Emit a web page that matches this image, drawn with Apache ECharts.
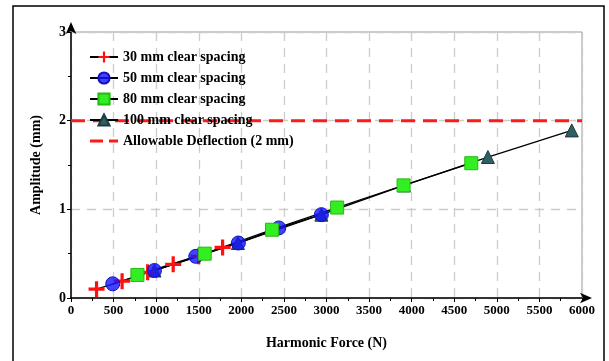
<!DOCTYPE html>
<html>
<head>
<meta charset="utf-8">
<script src="https://cdn.jsdelivr.net/npm/echarts@6/dist/echarts.min.js"></script>
<style>
html, body { margin: 0; padding: 0; background: #fff; }
#main { width: 609px; height: 361px; }
</style>
</head>
<body>
<div id="main"></div>
<script>
/* data: [force N, amplitude mm] */
var force30 = [300, 600, 900, 1200, 1500, 1780];
var amp30 = [0.10, 0.19, 0.29, 0.38, 0.47, 0.57];
var force50 = [490, 980, 1465, 1965, 2440, 2940];
var amp50 = [0.16, 0.31, 0.47, 0.62, 0.79, 0.94];
var force80 = [780, 1570, 2360, 3125, 3905, 4700];
var amp80 = [0.26, 0.50, 0.77, 1.02, 1.27, 1.52];
var force100 = [980, 1960, 2940, 3910, 4895, 5880];
var amp100 = [0.31, 0.62, 0.94, 1.27, 1.59, 1.89];
var limitX = [0, 6000];
var limitY = [2, 2];
var names = ['30 mm clear spacing', '50 mm clear spacing', '80 mm clear spacing', '100 mm clear spacing', 'Allowable Deflection (2 mm)'];

function pairs(xs, ys) {
	var out = [];
	for (var i = 0; i < xs.length; i++) {
		out.push([xs[i], ys[i]]);
	}
	return out;
}

var serif = '"Liberation Serif", "Times New Roman", serif';
var plus = 'path://M4,0h2v4h4v2h-4v4h-2v-4h-4v-2h4z';
// dashed legend icon, padded to the 28x14 icon box
var dashIcon = 'path://M0,0h0.01v0.01h-0.01z M0,5.5h13v3h-13z M19,5.5h9v3h-9z M0,14h0.01v-0.01h-0.01z';

var myChart = echarts.init(document.getElementById('main'));

function pointSeries(name, data, symbol, size, color, border) {
	return {
		name: name,
		type: 'line',
		data: data,
		symbol: symbol,
		symbolSize: size,
		showSymbol: true,
		lineStyle: { color: '#000', width: 1.3 },
		itemStyle: { color: color, borderColor: border, borderWidth: border ? 1 : 0, opacity: 1 },
		emphasis: { disabled: true },
		z: 3
	};
}

var option = {
	animation: false,
	graphic: [{
		type: 'rect',
		shape: { x: 13, y: 6, width: 591, height: 360 },
		style: { fill: 'none', stroke: '#000', lineWidth: 1.5 },
		z: 0
	}],
	grid: {
		left: 71, right: 27, top: 32, bottom: 63,
		show: true, borderColor: '#999', borderWidth: 1
	},
	legend: {
		data: [names[0], names[1], names[2], names[3], { name: names[4], icon: dashIcon }],
		orient: 'vertical',
		left: 84, top: 45,
		itemWidth: 28, itemHeight: 14, itemGap: 7,
		textStyle: { fontFamily: serif, fontWeight: 'bold', fontSize: 14, color: '#000' }
	},
	xAxis: {
		type: 'value',
		min: 0, max: 6000, interval: 500,
		name: 'Harmonic Force (N)',
		nameLocation: 'middle', nameGap: 38,
		nameTextStyle: { fontFamily: serif, fontWeight: 'bold', fontSize: 14, color: '#000' },
		axisLine: { show: true, lineStyle: { color: '#000', width: 1.5 }, symbol: ['none', 'arrow'], symbolSize: [8, 12], symbolOffset: [0, 10] },
		axisTick: { show: true, length: 4, lineStyle: { color: '#000' } },
		minorTick: { show: true, splitNumber: 2, length: 3, lineStyle: { color: '#000' } },
		axisLabel: { fontFamily: serif, fontWeight: 'bold', fontSize: 13, color: '#000', margin: 6,
			formatter: function (v) { return String(v); } },
		splitLine: { show: true, lineStyle: { color: '#ccc', type: [9, 7], width: 1.3 } }
	},
	yAxis: {
		type: 'value',
		min: 0, max: 3, interval: 1,
		name: 'Amplitude (mm)',
		nameLocation: 'middle', nameGap: 28,
		nameTextStyle: { fontFamily: serif, fontWeight: 'bold', fontSize: 14, color: '#000' },
		axisLine: { show: true, lineStyle: { color: '#000', width: 1.5 }, symbol: ['none', 'arrow'], symbolSize: [8, 12], symbolOffset: [0, 10] },
		axisTick: { show: true, length: 4, lineStyle: { color: '#000' } },
		minorTick: { show: true, splitNumber: 2, length: 3, lineStyle: { color: '#000' } },
		axisLabel: { fontFamily: serif, fontWeight: 'bold', fontSize: 14, color: '#000', margin: 5 },
		splitLine: { show: true, lineStyle: { color: '#ccc', type: [9, 7], width: 1.3 } }
	},
	series: [
		pointSeries(names[3], pairs(force100, amp100), 'triangle', 13, '#2e5f62', '#1d3b3d'),
		pointSeries(names[0], pairs(force30, amp30), plus, 16, '#ff1010', null),
		pointSeries(names[1], pairs(force50, amp50), 'circle', 14, 'rgba(20,20,255,0.8)', '#1010c0'),
		pointSeries(names[2], pairs(force80, amp80), 'rect', 13, '#33ee22', '#22bb11'),
		{
			name: names[4],
			type: 'line',
			data: pairs(limitX, limitY),
			symbol: 'none',
			lineStyle: { color: '#ff1a1a', width: 3, type: [14, 8] },
			itemStyle: { color: '#ff1a1a' },
			emphasis: { disabled: true },
			z: 2
		}
	]
};

myChart.setOption(option);
</script>
</body>
</html>
